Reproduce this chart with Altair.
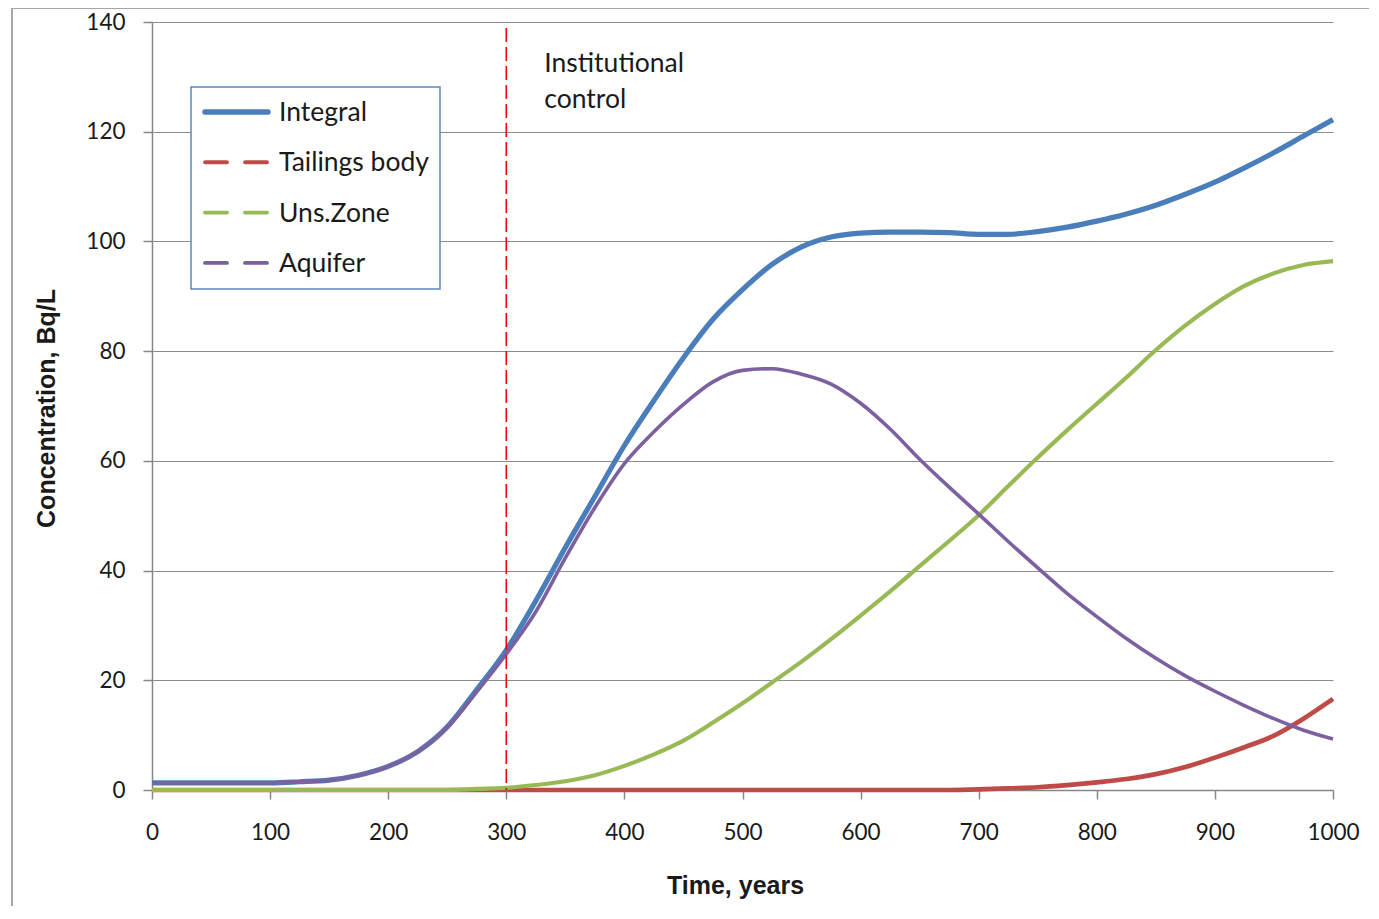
import altair as alt
import pandas as pd

# ---------------- data ----------------
years = list(range(0, 1001, 25))

integral = [1.3, 1.3, 1.3, 1.3, 1.3, 1.5, 1.8, 2.7, 4.3, 7.0, 11.5, 18.3, 25.5,
            34.5, 44.2, 53.5, 62.8, 71.0, 78.8, 85.8, 91.2, 95.8, 99.0, 100.8,
            101.5, 101.7, 101.7, 101.6, 101.3, 101.3, 101.8, 102.6, 103.7, 105.0,
            106.6, 108.6, 110.8, 113.4, 116.2, 119.2, 122.2]
tailings = [0.0, 0.0, 0.0, 0.0, 0.0, 0.0, 0.0, 0.0, 0.0, 0.0, 0.0, 0.0, 0.0,
            0.0, 0.0, 0.0, 0.0, 0.0, 0.0, 0.0, 0.0, 0.0, 0.0, 0.0, 0.0, 0.0,
            0.0, 0.0, 0.1, 0.3, 0.5, 0.9, 1.4, 2.0, 2.9, 4.2, 5.9, 7.8, 9.9,
            13.0, 16.6]
uns_zone = [0.0, 0.0, 0.0, 0.0, 0.0, 0.0, 0.0, 0.0, 0.0, 0.0, 0.0, 0.2, 0.4,
            0.9, 1.6, 2.7, 4.4, 6.5, 9.0, 12.3, 15.8, 19.6, 23.4, 27.5, 31.8,
            36.2, 40.8, 45.4, 50.1, 55.4, 60.6, 65.6, 70.4, 75.2, 80.2, 84.7,
            88.6, 91.9, 94.2, 95.7, 96.4]
aquifer = [1.3, 1.3, 1.3, 1.3, 1.3, 1.5, 1.8, 2.7, 4.3, 7.0, 11.4, 17.9, 24.8,
           32.5, 42.3, 51.5, 59.5, 65.3, 70.3, 74.4, 76.5, 76.8, 75.8, 74.0,
           70.5, 65.8, 60.3, 55.2, 50.3, 45.3, 40.5, 35.8, 31.6, 27.6, 24.0,
           20.8, 18.0, 15.4, 13.0, 10.9, 9.3]

series_names = ["Integral", "Tailings body", "Uns.Zone", "Aquifer"]
series_values = [integral, tailings, uns_zone, aquifer]
series_colors = ["#4a7ebb", "#be4b48", "#98b954", "#7d60a0"]
series_widths = [5.2, 3.6, 3.6, 3.6]

x_ticks = list(range(0, 1001, 100))
y_ticks = list(range(0, 141, 20))

control_year = [300]
annotation_text = ["Institutional\ncontrol"]

rows = []
for name, vals in zip(series_names, series_values):
    for yr, v in zip(years, vals):
        rows.append({"Series": name, "Year": yr, "Conc": v})
df = pd.DataFrame(rows)

FONT = "Lato"
TITLE_FONT = "Liberation Sans"
GRAY = "#878787"
TXT = "#1a1a1a"

x_scale = alt.Scale(domain=[0, 1000], nice=False, zero=False)
y_scale = alt.Scale(domain=[0, 140], nice=False)

lines = alt.Chart(df).mark_line(strokeJoin="round", interpolate="monotone").encode(
    x=alt.X("Year:Q", scale=x_scale,
            axis=alt.Axis(values=x_ticks, title="Time, years", grid=False, format="d",
                          labelFlush=False,
                          labelFont=FONT, labelFontSize=22.5, labelColor=TXT,
                          labelPadding=22, tickSize=9, tickColor=GRAY, tickWidth=1.5,
                          domainColor=GRAY, domainWidth=1.5,
                          titleFont=TITLE_FONT, titleFontSize=25, titleFontWeight="bold",
                          titleColor=TXT, titleX=583, titleY=95,
                          titleAlign="center", titleBaseline="middle")),
    y=alt.Y("Conc:Q", scale=y_scale,
            axis=alt.Axis(values=y_ticks, title="Concentration, Bq/L", grid=True,
                          gridColor="#8c8c8c", gridWidth=1.2, labelFlush=False,
                          labelFont=FONT, labelFontSize=22.5, labelColor=TXT,
                          labelPadding=18, tickSize=9, tickColor=GRAY, tickWidth=1.5,
                          domainColor=GRAY, domainWidth=1.5,
                          titleFont=TITLE_FONT, titleFontSize=25, titleFontWeight="bold",
                          titleColor=TXT, titleX=-106, titleY=386, titleAngle=-90,
                          titleAlign="center", titleBaseline="middle")),
    color=alt.Color("Series:N", scale=alt.Scale(domain=series_names, range=series_colors),
                    legend=None),
    strokeWidth=alt.StrokeWidth("Series:N",
                                scale=alt.Scale(domain=series_names, range=series_widths),
                                legend=None),
)

ctrl_df = pd.DataFrame({"Year": control_year, "Label": annotation_text})

rule = alt.Chart(ctrl_df).mark_rule(color="#ff0000", strokeWidth=1.6,
                                    strokeDash=[14, 5]).encode(
    x=alt.X("Year:Q", scale=x_scale),
    y=alt.value(6), y2=alt.value(768),
)

annot = alt.Chart(ctrl_df).mark_text(
    align="left", baseline="alphabetic", dx=38, lineBreak="\n", lineHeight=36,
    font=FONT, fontSize=26.5, color=TXT,
).encode(
    x=alt.X("Year:Q", scale=x_scale),
    y=alt.value(50),
    text="Label:N",
)

frame = alt.Chart(ctrl_df).mark_rect(fill=None, stroke="#a6a6a6", strokeWidth=2).encode(
    x=alt.value(-140), x2=alt.value(1300), y=alt.value(-14), y2=alt.value(1000),
)

# ---------------- legend (drawn as a box with one row per series) ----------------
legend_box = alt.Chart(ctrl_df).mark_rect(fill="white", stroke="#5b87c2",
                                          strokeWidth=1.5).encode(
    x=alt.value(39), x2=alt.value(288), y=alt.value(65), y2=alt.value(267),
)

legend_layers = [legend_box]
for i, (name, color, w) in enumerate(zip(series_names, series_colors, series_widths)):
    row_y = 90 + i * 50.3
    ldf = pd.DataFrame({"Series": [name]})
    dash = [1, 0] if i == 0 else [22, 18]
    legend_layers.append(
        alt.Chart(ldf).mark_rule(color=color, strokeWidth=w + 0.3, strokeDash=dash,
                                 strokeCap="round").encode(
            x=alt.value(53), x2=alt.value(116), y=alt.value(row_y))
    )
    legend_layers.append(
        alt.Chart(ldf).mark_text(align="left", baseline="middle", font=FONT,
                                 fontSize=26.5, color=TXT).encode(
            x=alt.value(127), y=alt.value(row_y + 1), text="Series:N")
    )

chart = alt.layer(frame, lines, rule, annot, *legend_layers).properties(
    width=1181, height=768,
    autosize=alt.AutoSizeParams(type="none"),
    padding={"left": 144, "top": 14, "right": 36, "bottom": 116},
    background="white",
).configure_view(stroke=None)

chart.save("out.html", embed_options={"renderer": "svg", "actions": False})
